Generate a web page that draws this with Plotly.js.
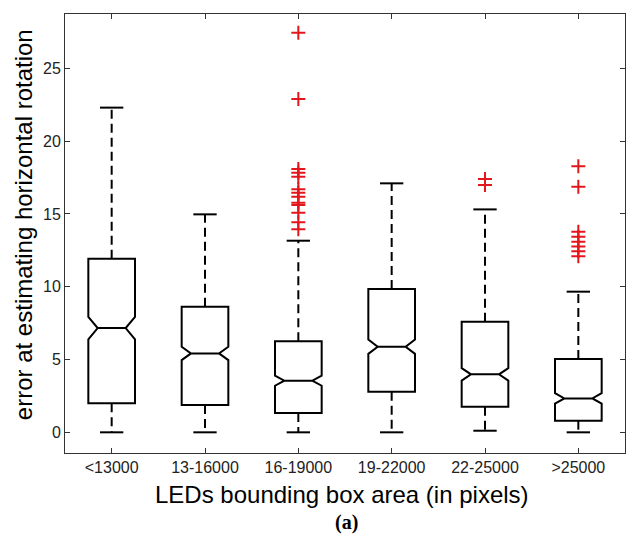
<!DOCTYPE html>
<html>
<head>
<meta charset="utf-8">
<script src="https://cdn.plot.ly/plotly-3.0.1.min.js"></script>
<style>
  html, body { margin: 0; padding: 0; background: #fff; }
  #chart { width: 626px; height: 538px; }
</style>
</head>
<body>
<div id="chart"></div>
<script>
// Size bins of the LED bounding box (pixels)
const categories = ['<13000', '13-16000', '16-19000', '19-22000', '22-25000', '>25000'];

// Box statistics per bin (error in degrees)
const lowerWhisker = [0.0, 0.0, 0.0, 0.0, 0.11, 0.0];
const q1Values     = [2.0, 1.87, 1.33, 2.79, 1.76, 0.8];
const medianValues = [7.16, 5.42, 3.55, 5.88, 3.98, 2.33];
const q3Values     = [11.92, 8.63, 6.25, 9.84, 7.6, 5.03];
const upperWhisker = [22.3, 14.97, 13.16, 17.1, 15.31, 9.66];
const notchSpans   = [0.77, 0.46, 0.35, 0.49, 0.43, 0.36];

// Outliers per bin
const outliers = [
  [],
  [],
  [27.45, 22.89, 18.08, 17.83, 17.56, 16.69, 16.46, 16.18, 15.77, 15.61, 15.08, 14.42, 13.94],
  [],
  [17.4, 16.98],
  [18.28, 16.87, 13.78, 13.43, 13.09, 12.77, 12.43, 12.1]
];

const yTicks = [0, 5, 10, 15, 20, 25];
const xTitle = 'LEDs bounding box area (in pixels)';
const yTitle = 'error at estimating horizontal rotation';
const panelLabel = '(a)';

const positions = categories.map((_, i) => i + 1);
const capHalf = 0.125;

// Dashed whiskers from the box edges out to the whisker ends
const wx = [], wy = [];
positions.forEach((p, i) => {
  wx.push(p, p, null, p, p, null);
  wy.push(q1Values[i], lowerWhisker[i], null, q3Values[i], upperWhisker[i], null);
});

// Solid end caps on each whisker
const cx = [], cy = [];
positions.forEach((p, i) => {
  cx.push(p - capHalf, p + capHalf, null, p - capHalf, p + capHalf, null);
  cy.push(lowerWhisker[i], lowerWhisker[i], null, upperWhisker[i], upperWhisker[i], null);
});

// Flatten outliers into point lists
const ox = [], oy = [];
outliers.forEach((vals, i) => vals.forEach(v => { ox.push(positions[i]); oy.push(v); }));

const traces = [
  {
    type: 'scatter', mode: 'lines', x: wx, y: wy,
    line: { color: '#000', width: 2, dash: '9px,5px' },
    hoverinfo: 'skip', showlegend: false
  },
  {
    type: 'scatter', mode: 'lines', x: cx, y: cy,
    line: { color: '#000', width: 2 },
    hoverinfo: 'skip', showlegend: false
  },
  {
    type: 'box', x: positions,
    q1: q1Values, median: medianValues, q3: q3Values,
    lowerfence: q1Values, upperfence: q3Values,
    notched: true, notchspan: notchSpans, notchwidth: 0.2,
    width: 0.5, whiskerwidth: 0, boxpoints: false,
    line: { color: '#000', width: 2 },
    fillcolor: 'rgba(255,255,255,0)',
    hoverinfo: 'skip', showlegend: false
  },
  {
    type: 'scatter', mode: 'markers', x: ox, y: oy,
    marker: { symbol: 'cross-thin', size: 10, color: '#e3161b', line: { color: '#e3161b', width: 2 } },
    hoverinfo: 'skip', showlegend: false
  }
];

const layout = {
  width: 626, height: 538,
  margin: { l: 65, r: 1, t: 14, b: 85 },
  paper_bgcolor: '#fff', plot_bgcolor: '#fff',
  showlegend: false,
  hovermode: false,
  font: { family: 'Liberation Sans, Arial, sans-serif', color: '#000' },
  xaxis: {
    range: [0.5, 6.5],
    tickmode: 'array', tickvals: positions, ticktext: categories,
    ticks: 'inside', ticklen: 5, tickwidth: 1, tickcolor: '#333',
    showline: true, linecolor: '#333', linewidth: 1, mirror: 'ticks',
    showgrid: false, zeroline: false,
    tickfont: { size: 16, color: '#222' }
  },
  yaxis: {
    range: [-1.42, 28.73],
    tickmode: 'array', tickvals: yTicks,
    ticks: 'inside', ticklen: 5, tickwidth: 1, tickcolor: '#333',
    showline: true, linecolor: '#333', linewidth: 1, mirror: 'ticks',
    showgrid: false, zeroline: false,
    tickfont: { size: 16, color: '#222' }
  },
  annotations: [
    {
      // x-axis title
      text: xTitle, xref: 'paper', yref: 'paper',
      x: 0.495, y: 0, yshift: -41, xanchor: 'center', yanchor: 'middle', showarrow: false,
      font: { size: 24, color: '#000' }
    },
    {
      // y-axis title
      text: yTitle, xref: 'paper', yref: 'paper', textangle: -90,
      x: 0, xshift: -42, y: 0.519, xanchor: 'center', yanchor: 'middle', showarrow: false,
      font: { size: 24, color: '#000' }
    },
    {
      // panel label
      text: '<b>' + panelLabel + '</b>', xref: 'paper', yref: 'paper',
      x: 0.502, y: 0, yshift: -69, xanchor: 'center', yanchor: 'middle', showarrow: false,
      font: { family: 'Liberation Serif, Times New Roman, serif', size: 20, color: '#000' }
    }
  ]
};

Plotly.newPlot('chart', traces, layout, { displayModeBar: false, staticPlot: true });
</script>
</body>
</html>
